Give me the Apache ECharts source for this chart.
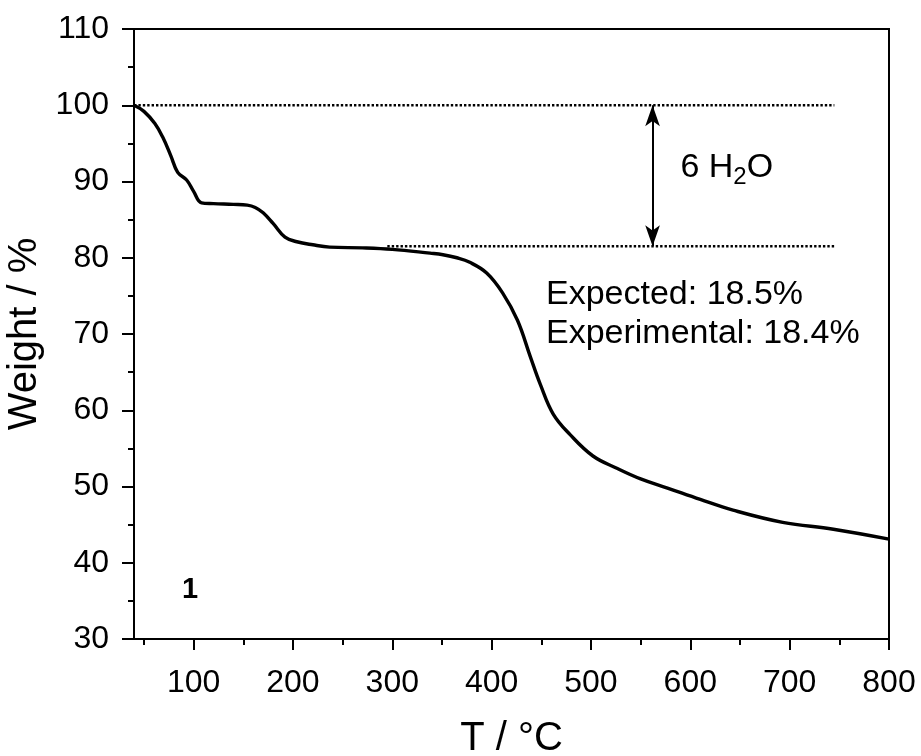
<!DOCTYPE html>
<html>
<head>
<meta charset="utf-8">
<script src="https://cdn.jsdelivr.net/npm/echarts@6/dist/echarts.min.js"></script>
<style>
html,body{margin:0;padding:0;background:#fff;}
#main{width:921px;height:756px;}
</style>
</head>
<body>
<div id="main"></div>
<script>
// ---- data ----
const temps   = [40, 50, 61, 69, 77, 84, 93, 100, 108, 120, 140, 154, 162, 170, 180, 192, 204, 220, 237, 270, 300, 338, 351, 365, 378, 395, 411, 426, 439, 449, 462, 479, 502, 526, 550, 577, 610, 643, 693, 744, 800];
const weights = [100, 99.2, 97.6, 95.8, 93.4, 91.2, 90.2, 88.7, 87.2, 87.1, 87.0, 86.9, 86.6, 85.9, 84.5, 82.7, 82.1, 81.7, 81.4, 81.3, 81.1, 80.6, 80.4, 80.0, 79.4, 78.0, 75.4, 71.8, 67.0, 63.4, 59.5, 56.8, 54.0, 52.4, 51.0, 49.8, 48.3, 46.9, 45.3, 44.4, 43.1];
const xMajorTicks = [100, 200, 300, 400, 500, 600, 700, 800];
const xMinorTicks = [50, 150, 250, 350, 450, 550, 650, 750];
const upperLevel = [[40, 100], [745, 100]];
const lowerLevel = [[295, 81.5], [745, 81.5]];
const arrowT = 562;
const labelWater = {t: 590, w: 90.5, text: '6 H', sub: '2', tail: 'O'};
const labelExpected = {t: 454.7, w: 75.2, text: 'Expected: 18.5%'};
const labelExperimental = {t: 454.7, w: 70.1, text: 'Experimental: 18.4%'};
const labelSample = {t: 96.4, w: 36.4, text: '1'};

const FONT = '"Liberation Sans", Arial, sans-serif';
const chart = echarts.init(document.getElementById('main'));

const axisLineStyle = {color: '#000', width: 2};
const option = {
  animation: false,
  backgroundColor: '#fff',
  grid: {left: 134, right: 32, top: 29, bottom: 117, outerBoundsMode: 'none', containLabel: false,
         show: true, borderColor: '#000', borderWidth: 2, backgroundColor: 'transparent'},
  xAxis: [
    {
      type: 'value', min: 40, max: 800, position: 'bottom',
      axisLine: {show: true, lineStyle: axisLineStyle},
      axisTick: {show: true, customValues: xMajorTicks, length: 11, lineStyle: axisLineStyle},
      axisLabel: {customValues: xMajorTicks, fontSize: 32, color: '#000', margin: 28, fontFamily: FONT},
      splitLine: {show: false},
      name: 'T / °C', nameLocation: 'middle', nameGap: 80,
      nameTextStyle: {fontSize: 40, color: '#000', fontFamily: FONT}
    },
    {
      type: 'value', min: 40, max: 800, position: 'bottom',
      axisLine: {show: false},
      axisTick: {show: true, customValues: xMinorTicks, length: 6, lineStyle: axisLineStyle},
      axisLabel: {show: false},
      splitLine: {show: false}
    }
  ],
  yAxis: {
    type: 'value', min: 30, max: 110, interval: 10,
    axisLine: {show: true, lineStyle: axisLineStyle},
    axisTick: {show: true, length: 12, lineStyle: axisLineStyle},
    minorTick: {show: true, splitNumber: 2, length: 6, lineStyle: axisLineStyle},
    axisLabel: {fontSize: 32, color: '#000', margin: 25, fontFamily: FONT},
    splitLine: {show: false},
    minorSplitLine: {show: false},
    name: 'Weight / %', nameLocation: 'middle', nameGap: 83,
    nameTextStyle: {fontSize: 40, color: '#000', fontFamily: FONT}
  },
  series: [
    {
      type: 'line', xAxisIndex: 0,
      data: upperLevel, showSymbol: false, silent: true,
      lineStyle: {color: '#000', width: 2.6, type: [2.4, 2]},
      markLine: {
        silent: true, symbol: ['arrow', 'arrow'], symbolSize: [11, 21],
        label: {show: false},
        lineStyle: {color: '#000', width: 2, type: 'solid'},
        data: [[{coord: [arrowT, 100]}, {coord: [arrowT, 81.5]}]]
      }
    },
    {
      type: 'line', xAxisIndex: 0,
      data: lowerLevel, showSymbol: false, silent: true,
      lineStyle: {color: '#000', width: 2.6, type: [2.4, 2]}
    },
    {
      type: 'line', xAxisIndex: 0,
      data: temps.map((t, i) => [t, weights[i]]),
      showSymbol: false, smooth: 0.4,
      lineStyle: {color: '#000', width: 3.4}
    }
  ]
};
chart.setOption(option);

function px(t, w) { return chart.convertToPixel({xAxisIndex: 0, yAxisIndex: 0}, [t, w]); }
const pW = px(labelWater.t, labelWater.w);
const pE = px(labelExpected.t, labelExpected.w);
const pX = px(labelExperimental.t, labelExperimental.w);
const pS = px(labelSample.t, labelSample.w);
chart.setOption({
  graphic: [
    {
      type: 'text', x: pW[0], y: pW[1],
      style: {
        text: '{a|' + labelWater.text + '}{s|' + labelWater.sub + '}{a|' + labelWater.tail + '}',
        verticalAlign: 'middle', align: 'left',
        rich: {
          a: {fontSize: 34, fontFamily: FONT, fill: '#000', height: 36, verticalAlign: 'top'},
          s: {fontSize: 24, fontFamily: FONT, fill: '#000', height: 56, verticalAlign: 'top'}
        }
      }
    },
    {type: 'text', x: pE[0], y: pE[1], style: {text: labelExpected.text, fontSize: 34, fontFamily: FONT, fill: '#000', verticalAlign: 'middle', align: 'left'}},
    {type: 'text', x: pX[0], y: pX[1], style: {text: labelExperimental.text, fontSize: 34, fontFamily: FONT, fill: '#000', verticalAlign: 'middle', align: 'left'}},
    {type: 'text', x: pS[0], y: pS[1], style: {text: labelSample.text, fontSize: 29, fontWeight: 'bold', fontFamily: FONT, fill: '#000', verticalAlign: 'middle', align: 'center'}}
  ]
});
</script>
</body>
</html>
